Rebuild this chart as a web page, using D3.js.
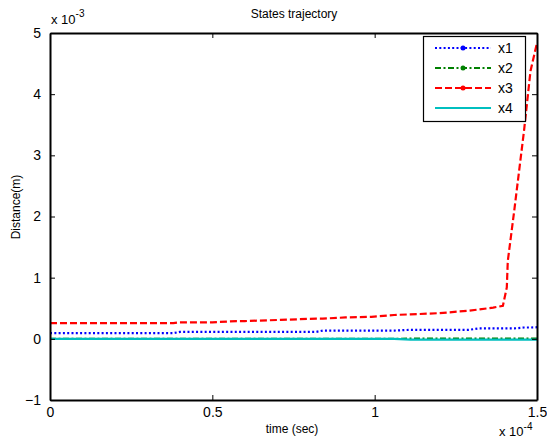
<!DOCTYPE html>
<html>
<head>
<meta charset="utf-8">
<script src="https://cdn.jsdelivr.net/npm/d3@7"></script>
<style>
  body { margin: 0; background: #fff; }
  svg { font-family: "Liberation Sans", Arial, sans-serif; }
</style>
</head>
<body>
<svg id="chart" width="547" height="445"></svg>
<script>
// time in units of 1e-4 s, distances in units of 1e-3 m
const time = [0, 0.1, 0.2, 0.3, 0.38, 0.4, 0.5, 0.575, 0.6, 0.71, 0.82, 0.84, 0.91, 0.99, 1.06, 1.11, 1.2, 1.29, 1.32, 1.365, 1.395, 1.407, 1.41, 1.43, 1.46, 1.48, 1.5];
const x1 = [0.093, 0.093, 0.093, 0.093, 0.093, 0.114, 0.114, 0.114, 0.114, 0.114, 0.114, 0.135, 0.135, 0.135, 0.135, 0.147, 0.147, 0.147, 0.17, 0.17, 0.17, 0.17, 0.17, 0.17, 0.185, 0.185, 0.19];
const x2 = [0, 0, 0, 0, 0, 0, 0, 0, 0, 0, 0, 0, 0, 0, 0, 0.004, 0.004, 0.004, 0.004, 0.004, 0.004, 0.004, 0.004, 0.004, 0.004, 0.004, 0.004];
const x3 = [0.256, 0.256, 0.256, 0.256, 0.256, 0.27, 0.27, 0.29, 0.29, 0.31, 0.33, 0.33, 0.35, 0.36, 0.39, 0.40, 0.42, 0.46, 0.48, 0.51, 0.54, 0.84, 1.27, 2.1, 3.4, 4.38, 4.84];
const x4 = [0, 0, 0, 0, 0, 0, 0, 0, 0, 0, 0, 0, 0, 0, 0, -0.012, -0.012, -0.012, -0.012, -0.012, -0.012, -0.012, -0.012, -0.012, -0.012, -0.012, -0.012];

const xTicks = [0, 0.5, 1, 1.5];
const yTicks = [-1, 0, 1, 2, 3, 4, 5];
const seriesNames = ['x1', 'x2', 'x3', 'x4'];

const series = [
  { name: 'x1', values: x1, color: '#0000ff', dash: '2,2.3', marker: true },
  { name: 'x2', values: x2, color: '#008000', dash: '6,2.5,2,2.5', marker: true },
  { name: 'x3', values: x3, color: '#ff0000', dash: '7,3', marker: true },
  { name: 'x4', values: x4, color: '#00bfbf', dash: null, marker: false }
];

const svg = d3.select('#chart');
const margin = { left: 50, right: 10, top: 33, bottom: 45 };
const W = 547, H = 445;

const x = d3.scaleLinear().domain([0, 1.5]).range([margin.left, W - margin.right]);
const y = d3.scaleLinear().domain([-1, 5]).range([H - margin.bottom, margin.top]);

const line = vals => d3.line().x((d, i) => x(time[i])).y(d => y(d))(vals);

// clip
svg.append('defs').append('clipPath').attr('id', 'clip')
  .append('rect').attr('x', x(0)).attr('y', y(5)).attr('width', x(1.5) - x(0)).attr('height', y(-1) - y(5));

const g = svg.append('g').attr('clip-path', 'url(#clip)');
series.forEach(s => {
  g.append('path')
    .attr('d', line(s.values))
    .attr('fill', 'none')
    .attr('stroke', s.color)
    .attr('stroke-width', 2.2)
    .attr('stroke-dasharray', s.dash);
});

// axes with inward ticks on all four sides
const tickFont = '14px';
const axB = d3.axisBottom(x).tickValues(xTicks).tickSizeInner(-5).tickSizeOuter(0).tickPadding(7).tickFormat(d3.format('~g'));
const axL = d3.axisLeft(y).tickValues(yTicks).tickSizeInner(-5).tickSizeOuter(0).tickPadding(9).tickFormat(d3.format('~g'));
const axT = d3.axisTop(x).tickValues(xTicks).tickSizeInner(-5).tickSizeOuter(0).tickFormat('');
const axR = d3.axisRight(y).tickValues(yTicks).tickSizeInner(-5).tickSizeOuter(0).tickFormat('');

const gb = svg.append('g').attr('transform', `translate(0,${y(-1)})`).call(axB);
const gl = svg.append('g').attr('transform', `translate(${x(0)},0)`).call(axL);
const gt = svg.append('g').attr('transform', `translate(0,${y(5)})`).call(axT);
const gr = svg.append('g').attr('transform', `translate(${x(1.5)},0)`).call(axR);

[gb, gl, gt, gr].forEach(a => {
  a.select('.domain').attr('stroke', '#000').attr('stroke-width', 2);
  a.selectAll('.tick line').attr('stroke', '#000').attr('stroke-width', 1);
  a.selectAll('.tick text').attr('fill', '#000').style('font-size', tickFont).style('font-family', '"Liberation Sans", Arial, sans-serif');
});

// title and labels
svg.append('text').attr('x', 294).attr('y', 18).attr('text-anchor', 'middle')
  .style('font-size', '12px').text('States trajectory');
svg.append('text').attr('x', 292).attr('y', 433).attr('text-anchor', 'middle')
  .style('font-size', '12px').text('time (sec)');
svg.append('text').attr('transform', 'translate(20,207) rotate(-90)').attr('text-anchor', 'middle')
  .style('font-size', '12px').text('Distance(m)');

// exponent labels
const expY = svg.append('text').attr('x', 51).attr('y', 24).style('font-size', '13px');
expY.append('tspan').text('x 10');
expY.append('tspan').attr('dy', -7).style('font-size', '10px').text('-3');

const expX = svg.append('text').attr('x', 499).attr('y', 436).style('font-size', '13px');
expX.append('tspan').text('x 10');
expX.append('tspan').attr('dy', -6).style('font-size', '10px').text('-4');

// legend
const lg = svg.append('g');
lg.append('rect').attr('x', 423.5).attr('y', 36.5).attr('width', 102).attr('height', 85)
  .attr('fill', '#fff').attr('stroke', '#000').attr('stroke-width', 1.2);
series.forEach((s, i) => {
  const yy = 48 + i * 20;
  lg.append('line').attr('x1', 435).attr('x2', 491).attr('y1', yy).attr('y2', yy)
    .attr('stroke', s.color).attr('stroke-width', 2).attr('stroke-dasharray', s.dash);
  if (s.marker) lg.append('circle').attr('cx', 463).attr('cy', yy).attr('r', 2.5).attr('fill', s.color);
  lg.append('text').attr('x', 498).attr('y', yy + 5).style('font-size', '14px').text(seriesNames[i]);
});
</script>
</body>
</html>
